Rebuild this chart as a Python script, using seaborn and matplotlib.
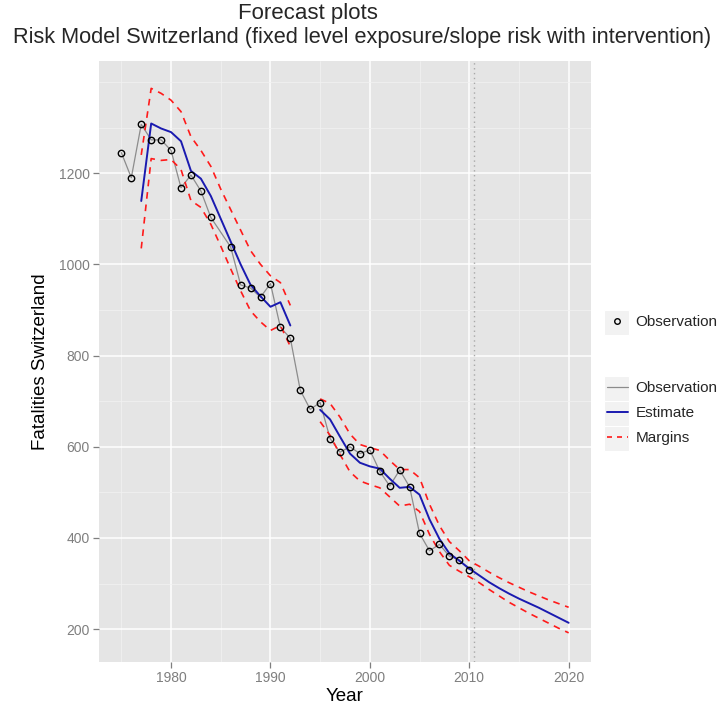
import numpy as np
import pandas as pd
import matplotlib
matplotlib.use("Agg")
import matplotlib.pyplot as plt
from matplotlib.lines import Line2D
from matplotlib.patches import Rectangle
from matplotlib.ticker import AutoMinorLocator
import seaborn as sns

# ---------------- data ----------------
obs_years = [1975, 1976, 1977, 1978, 1979, 1980, 1981, 1982, 1983, 1984,
             1986, 1987, 1988, 1989, 1990, 1991, 1992, 1993, 1994, 1995,
             1996, 1997, 1998, 1999, 2000, 2001, 2002, 2003, 2004, 2005,
             2006, 2007, 2008, 2009, 2010]
obs_vals = [1245, 1190, 1307, 1273, 1273, 1250, 1168, 1196, 1161, 1103,
            1038, 955, 948, 928, 958, 862, 838, 724, 682, 697,
            618, 588, 600, 585, 593, 546, 514, 549, 512, 410,
            372, 386, 360, 352, 330]

est_years_a = list(range(1977, 1993))
est_a = [1139, 1309, 1298, 1290, 1270, 1205, 1188, 1150, 1100, 1050, 1000, 955, 930, 907, 917, 866]
upper_a = [1240, 1386, 1375, 1360, 1335, 1280, 1250, 1215, 1165, 1120, 1075, 1030, 1000, 975, 960, 910]
lower_a = [1035, 1232, 1228, 1230, 1208, 1140, 1125, 1088, 1040, 990, 942, 898, 874, 855, 866, 820]

est_years_b = list(range(1995, 2021))
est_b = [681, 660, 622, 585, 565, 557, 552, 530, 510, 512, 495, 441, 398, 366, 350, 333,
         318, 303, 290, 278, 267, 257, 247, 236, 225, 214]
upper_b = [705, 695, 665, 628, 605, 598, 592, 570, 550, 550, 532, 474, 427, 392, 372, 350,
           338, 325, 313, 302, 292, 282, 273, 264, 256, 248]
lower_b = [655, 625, 583, 545, 525, 517, 510, 490, 470, 474, 458, 408, 370, 340, 327, 315,
           302, 287, 273, 259, 247, 235, 224, 213, 202, 192]

forecast_start = 2010.5
x_ticks = [1980, 1990, 2000, 2010, 2020]
y_ticks = [200, 400, 600, 800, 1000, 1200]

# ---------------- style ----------------
sns.set_style("darkgrid", {"axes.facecolor": "#E5E5E5", "grid.color": "white"})
plt.rcParams["font.family"] = ["Liberation Sans", "DejaVu Sans"]

fig = plt.figure(figsize=(7.24, 7.10), dpi=100)
W, H = 724, 710
ax = fig.add_axes([99 / W, 1 - 662 / H, (591 - 99) / W, (662 - 61) / H])

obs_df = pd.DataFrame({"Year": obs_years, "Value": obs_vals})
seg_a = pd.DataFrame({"Year": est_years_a, "Est": est_a, "Up": upper_a, "Lo": lower_a})
seg_b = pd.DataFrame({"Year": est_years_b, "Est": est_b, "Up": upper_b, "Lo": lower_b})

obs_col = "#8C8C8C"
est_col = "#1A1AB0"
mar_col = "#FF1A1A"
mar_ls = (0, (4, 3.5))

# forecast start marker
ax.axvline(forecast_start, color="#A8A8A8", lw=1.0, ls=(0, (1, 2.5)), zorder=1)

# observation line + hollow points
sns.lineplot(data=obs_df, x="Year", y="Value", ax=ax, color=obs_col, lw=0.9,
             estimator=None, sort=False, zorder=3)
sns.lineplot(data=obs_df, x="Year", y="Value", ax=ax, color=obs_col, lw=0,
             marker="o", markersize=4.6, markerfacecolor="none",
             markeredgecolor="black", markeredgewidth=1.0,
             estimator=None, sort=False, zorder=5)

for seg in (seg_a, seg_b):
    sns.lineplot(data=seg, x="Year", y="Est", ax=ax, color=est_col, lw=1.4,
                 estimator=None, sort=False, zorder=4)
    for col in ("Up", "Lo"):
        sns.lineplot(data=seg, x="Year", y=col, ax=ax, color=mar_col, lw=1.2,
                     linestyle=mar_ls, estimator=None, sort=False, zorder=4)

ax.set_xlim(1972.75, 2022.25)
ax.set_ylim(128, 1446)
ax.set_xticks(x_ticks)
ax.set_yticks(y_ticks)
ax.xaxis.set_minor_locator(AutoMinorLocator(2))
ax.yaxis.set_minor_locator(AutoMinorLocator(2))
ax.grid(which="major", color="white", lw=1.1)
ax.grid(which="minor", color="#F2F2F2", lw=0.5)
ax.set_axisbelow(True)
for s in ax.spines.values():
    s.set_visible(False)
ax.tick_params(axis="both", which="major", direction="out", length=4.3, width=0.9,
               color="#7F7F7F", labelcolor="#7F7F7F", labelsize=10, pad=2.5,
               bottom=True, left=True)
ax.tick_params(axis="both", which="minor", length=0)
ax.set_xlabel("Year", fontsize=13.5, color="black", labelpad=2)
ax.set_ylabel("Fatalities Switzerland", fontsize=13.5, color="black", labelpad=7)

if ax.get_legend() is not None:
    ax.get_legend().remove()

# titles
fig.text(308 / W, 1 - 13 / H, "Forecast plots", ha="center", va="center", fontsize=16)
fig.text(362 / W, 1 - 38 / H,
         "Risk Model Switzerland (fixed level exposure/slope risk with intervention)",
         ha="center", va="center", fontsize=15.7)

# legend key backgrounds (ggplot style)
def key_bg(x0, y0, n, step=25):
    for i in range(n):
        fig.add_artist(Rectangle((x0 / 100, (H - (y0 + step * (i + 1))) / 100), 0.25, step / 100,
                                 transform=fig.dpi_scale_trans, facecolor="#F2F2F2",
                                 edgecolor="white", lw=0.8, zorder=0))

key_bg(604, 310, 1)
key_bg(604, 376, 3)

h1 = [Line2D([], [], ls="none", marker="o", ms=4, mfc="none", mec="black", mew=1.0)]
h2 = [Line2D([], [], color=obs_col, lw=0.9),
      Line2D([], [], color=est_col, lw=1.4),
      Line2D([], [], color=mar_col, lw=1.2, ls=(0, (3, 3)))]

common = dict(frameon=False, fontsize=11, handlelength=1.35, handletextpad=0.5,
              borderpad=0, borderaxespad=0, labelspacing=0.71)
leg1 = fig.legend(h1, ["Observation"], loc="center left",
                  bbox_to_anchor=(607 / W, 1 - 322 / H), **common)
leg2 = fig.legend(h2, ["Observation", "Estimate", "Margins"], loc="upper left",
                  bbox_to_anchor=(607 / W, 1 - 381.5 / H), **common)

fig.savefig("out.png", dpi=100)
